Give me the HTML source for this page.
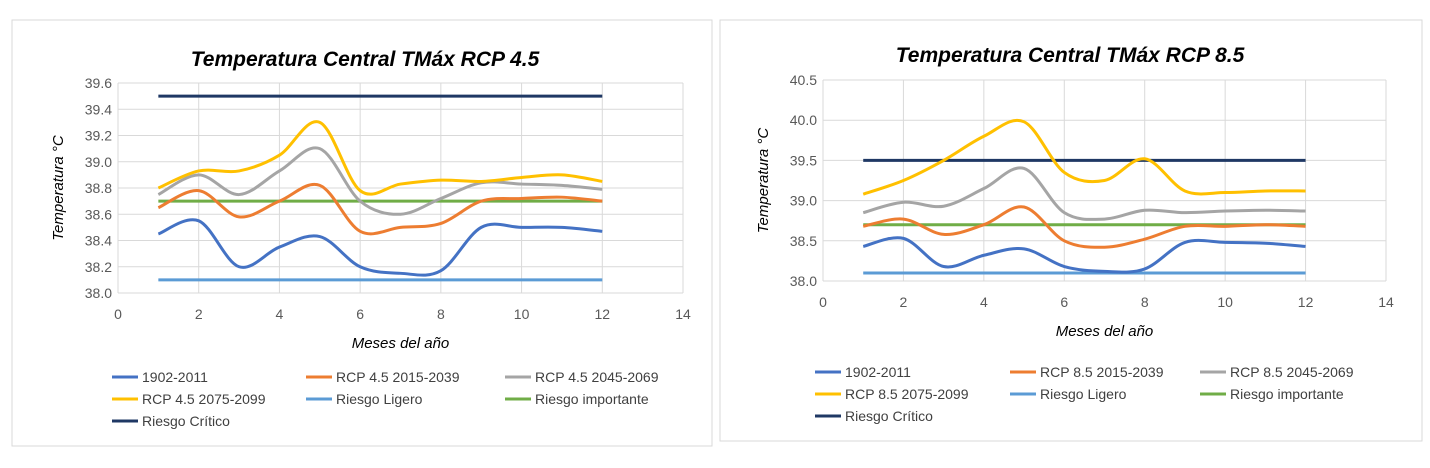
<!DOCTYPE html>
<html><head><meta charset="utf-8">
<style>
body{margin:0;width:1430px;height:468px;background:#fff;overflow:hidden;font-family:"Liberation Sans",sans-serif;}
svg{position:absolute;left:0;top:0}
</style></head>
<body>
<svg id="s" width="1430" height="468"></svg>
<script>
const months=[1,2,3,4,5,6,7,8,9,10,11,12];
const xTicks=[0,2,4,6,8,10,12,14];
const yTicksA=[38.0,38.2,38.4,38.6,38.8,39.0,39.2,39.4,39.6];
const yTicksB=[38.0,38.5,39.0,39.5,40.0,40.5];
const a_hist=[38.45,38.55,38.2,38.35,38.43,38.2,38.15,38.17,38.5,38.5,38.5,38.47];
const a_r1=[38.65,38.78,38.58,38.7,38.82,38.47,38.5,38.53,38.7,38.72,38.73,38.7];
const a_r2=[38.75,38.9,38.75,38.93,39.1,38.7,38.6,38.72,38.84,38.83,38.82,38.79];
const a_r3=[38.8,38.93,38.93,39.05,39.3,38.78,38.83,38.86,38.85,38.88,38.9,38.85];
const b_hist=[38.43,38.53,38.18,38.32,38.4,38.18,38.12,38.15,38.48,38.48,38.47,38.43];
const b_r1=[38.68,38.77,38.58,38.7,38.92,38.5,38.42,38.52,38.68,38.68,38.7,38.68];
const b_r2=[38.85,38.98,38.93,39.15,39.4,38.85,38.77,38.88,38.85,38.87,38.88,38.87];
const b_r3=[39.08,39.25,39.5,39.8,39.98,39.35,39.25,39.52,39.12,39.1,39.12,39.12];
const riskLigero=38.1, riskImportante=38.7, riskCritico=39.5;
const legendA=["1902-2011","RCP 4.5 2015-2039","RCP 4.5 2045-2069","RCP 4.5 2075-2099","Riesgo Ligero","Riesgo importante","Riesgo Crítico"];
const legendB=["1902-2011","RCP 8.5 2015-2039","RCP 8.5 2045-2069","RCP 8.5 2075-2099","Riesgo Ligero","Riesgo importante","Riesgo Crítico"];
const colors=["#4472c4","#ed7d31","#a5a5a5","#ffc000","#5b9bd5","#70ad47","#1f3864"];
const NS="http://www.w3.org/2000/svg";
const svg=document.getElementById('s');
function el(t,a,p){const e=document.createElementNS(NS,t);for(const k in a)e.setAttribute(k,a[k]);(p||svg).appendChild(e);return e;}
function smooth(pts){let d="M"+pts[0][0]+","+pts[0][1];for(let i=0;i<pts.length-1;i++){const p0=pts[i-1]||pts[i],p1=pts[i],p2=pts[i+1],p3=pts[i+2]||p2;
const c1=[p1[0]+(p2[0]-p0[0])/6,p1[1]+(p2[1]-p0[1])/6],c2=[p2[0]-(p3[0]-p1[0])/6,p2[1]-(p3[1]-p1[1])/6];
d+=" C"+c1+" "+c2+" "+p2;}return d;}
function chart(o){
 const g=el('g',{});
 const box=el('rect',{x:o.bx,y:o.by,width:o.bw,height:o.bh,fill:'#fff',stroke:'#d9d9d9'},g);
 
 const X=v=>o.x0+(o.x1-o.x0)*v/14, Y=v=>o.y0+(o.y1-o.y0)*(v-o.ymin)/(o.ymax-o.ymin);
 const t=el('text',{x:o.tx,y:o.ty,'text-anchor':'middle','font-size':21,'font-weight':'bold','font-style':'italic',fill:'#000'},g);t.textContent=o.title;
 
 o.yt.forEach(v=>{el('line',{x1:o.x0,x2:o.x1,y1:Y(v),y2:Y(v),stroke:'#d9d9d9'},g);
  const l=el('text',{x:o.x0-6,y:Y(v)+5,'text-anchor':'end','font-size':14,fill:'#595959'},g);l.textContent=v.toFixed(1);
  });
 xTicks.forEach(v=>{el('line',{x1:X(v),x2:X(v),y1:o.y0,y2:o.y1,stroke:'#d9d9d9'},g);
  const l=el('text',{x:X(v),y:o.y0+26,'text-anchor':'middle','font-size':14,fill:'#595959'},g);l.textContent=v;
  });
 const xa=el('text',{x:(X(0)+X(14))/2,y:o.y0+55,'text-anchor':'middle','font-size':15,'font-style':'italic',fill:'#000'},g);xa.textContent="Meses  del año";
 
 const ya=el('text',{x:0,y:0,'text-anchor':'middle','font-size':15,'font-style':'italic',fill:'#000',transform:`translate(${o.x0-55},${(o.y0+o.y1)/2}) rotate(-90)`},g);ya.textContent="Temperatura  °C";
 
 const series=[o.s[0],o.s[1],o.s[2],o.s[3],months.map(()=>riskLigero),months.map(()=>riskImportante),months.map(()=>riskCritico)];
 const order=[4,5,6,0,1,2,3];
 order.forEach(i=>{const p=el('path',{d:smooth(months.map((m,j)=>[X(m),Y(series[i][j])])),fill:'none',stroke:colors[i],'stroke-width':3},g);
  });
 o.leg.forEach((n,i)=>{const lx=o.lx[i%3],ly=o.ly[Math.floor(i/3)];
  const lg=el('g',{},g);
  el('line',{x1:lx,x2:lx+26,y1:ly,y2:ly,stroke:colors[i],'stroke-width':3},lg);
  const tt=el('text',{x:lx+30,y:ly+5,'font-size':14,fill:'#404040'},lg);tt.textContent=n;});
}
chart({name:'chart-rcp45',bx:12,by:20,bw:700,bh:426,title:"Temperatura Central TMáx RCP 4.5",tx:365,ty:66,
 x0:118,x1:683,y0:293,y1:83,ymin:38.0,ymax:39.6,yt:yTicksA,s:[a_hist,a_r1,a_r2,a_r3],leg:legendA,
 lx:[112,306,505],ly:[377,399,421]});
chart({name:'chart-rcp85',bx:720,by:20,bw:702,bh:421,title:"Temperatura Central TMáx RCP 8.5",tx:1070,ty:62,
 x0:823,x1:1386,y0:281,y1:80,ymin:38.0,ymax:40.5,yt:yTicksB,s:[b_hist,b_r1,b_r2,b_r3],leg:legendB,
 lx:[815,1010,1200],ly:[372,394,416]});
</script>
</body></html>
